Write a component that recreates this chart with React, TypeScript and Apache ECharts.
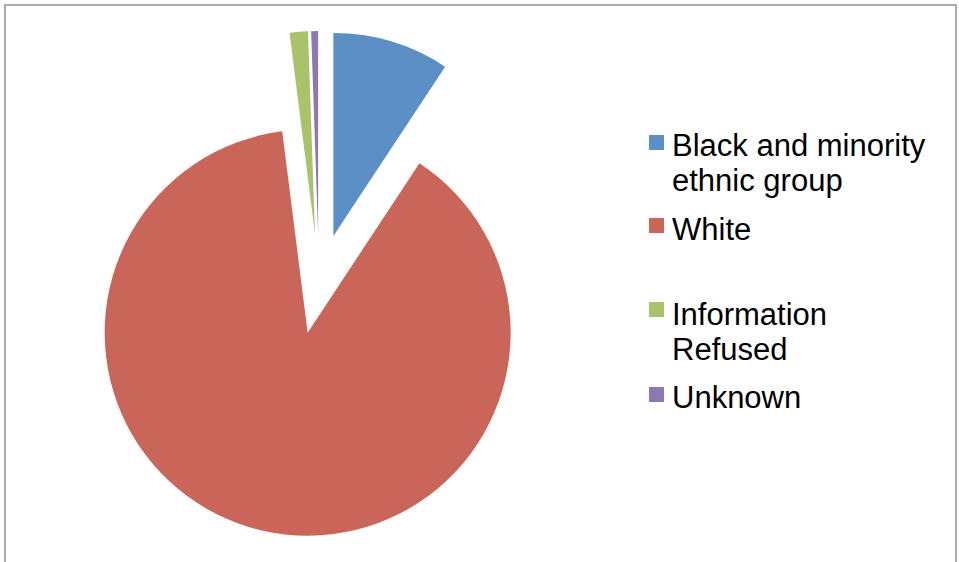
import React, { useEffect, useRef } from "react";
import * as echarts from "echarts";

const categories = [
  "Black and minority ethnic group",
  "White",
  "Information Refused",
  "Unknown",
];
const legendLabels = [
  "Black and minority\nethnic group",
  "White",
  "Information\nRefused",
  "Unknown",
];
const values = [9.28, 88.7, 1.45, 0.55];
const colors = ["#5B8FC6", "#CA6559", "#A9C36B", "#8D78B3"];

// legend layout (row positions)
const legendSquareTop = [135, 218, 302, 387];
const legendTextCenter = [145, 229, 314, 397];

export default function App() {
  const ref = useRef<HTMLDivElement>(null);
  useEffect(() => {
    if (!ref.current) return;
    const chart = echarts.init(ref.current, undefined, { renderer: "svg" });
    const legendGraphics: any[] = [];
    categories.forEach((name, i) => {
      legendGraphics.push({
        type: "rect",
        shape: { x: 649, y: legendSquareTop[i], width: 15, height: 15 },
        style: { fill: colors[i] },
        silent: true,
      });
      legendGraphics.push({
        type: "text",
        x: 672,
        y: legendTextCenter[i] - 17.5,
        style: {
          text: legendLabels[i],
          fill: "#000000",
          font: '31px "Liberation Sans", Arial, sans-serif',
          lineHeight: 35,
          verticalAlign: "top",
          align: "left",
        },
        silent: true,
      });
    });
    chart.setOption({
      animation: false,
      backgroundColor: "#ffffff",
      graphic: [
        {
          type: "rect",
          shape: { x: 5, y: 5, width: 951, height: 620 },
          style: { fill: "none", stroke: "#ABABAB", lineWidth: 2 },
          silent: true,
        },
        ...legendGraphics,
      ],
      series: [
        {
          type: "pie",
          center: [319, 284],
          radius: [0, 203],
          startAngle: 90,
          clockwise: true,
          selectedMode: "multiple",
          selectedOffset: 50,
          label: { show: false },
          labelLine: { show: false },
          emphasis: { disabled: true, scale: false },
          itemStyle: { borderWidth: 0 },
          data: categories.map((name, i) => ({
            name,
            value: values[i],
            selected: true,
            itemStyle: { color: colors[i] },
            select: { itemStyle: { color: colors[i] } },
          })),
        },
      ],
    });
    return () => chart.dispose();
  }, []);
  return (
    <div
      ref={ref}
      style={{ position: "fixed", left: 0, top: 0, width: 959, height: 562 }}
    />
  );
}
